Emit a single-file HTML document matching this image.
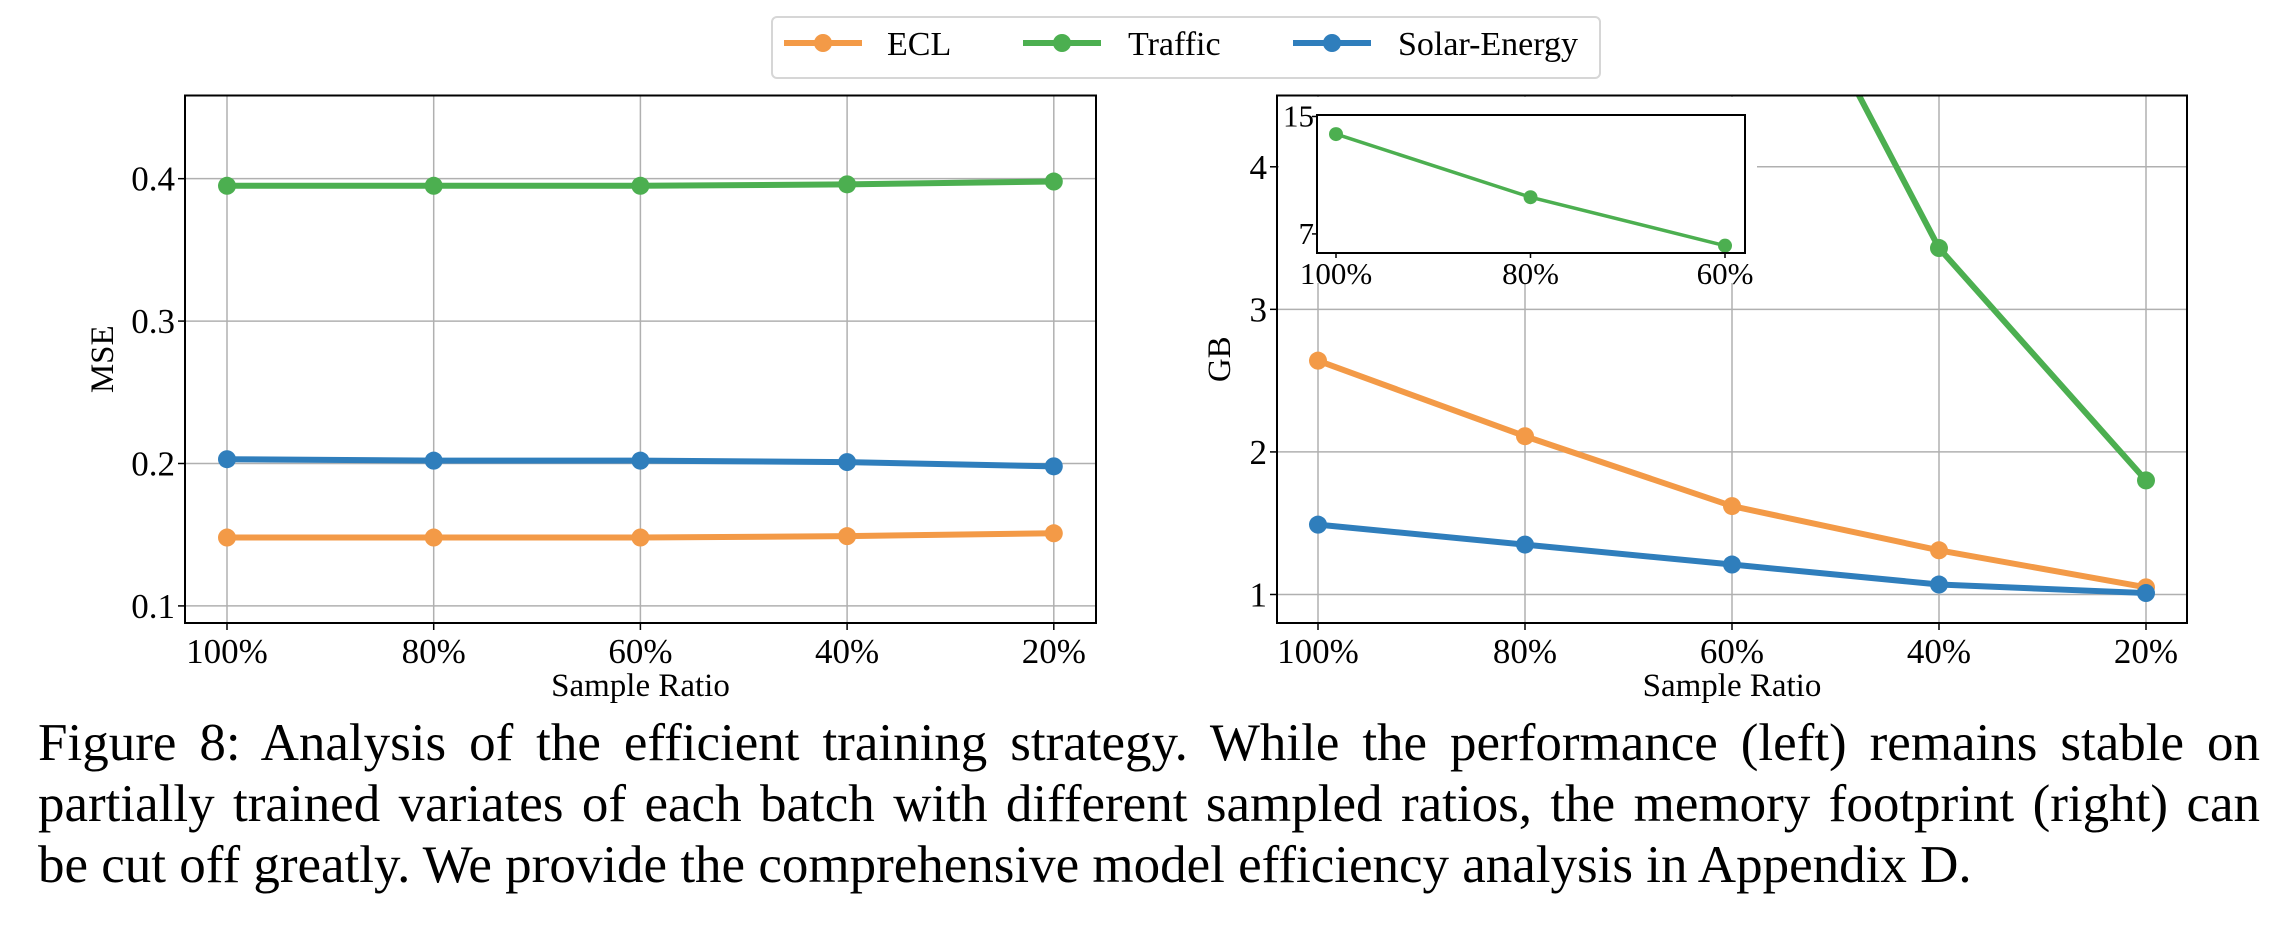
<!DOCTYPE html>
<html><head><meta charset="utf-8"><style>
html,body{margin:0;padding:0;background:#fff;}
body{width:2281px;height:936px;position:relative;overflow:hidden;font-family:"Liberation Serif",serif;}
#cap{position:absolute;left:38px;top:713px;width:2222px;font-size:53px;line-height:61px;text-align:justify;color:#000;}
#cap span{display:block;white-space:nowrap;}
</style></head><body>
<svg id="fig" width="2281" height="936" style="position:absolute;left:0;top:0" font-family="Liberation Serif, serif"></svg>
<div id="cap">
<span style="text-align-last:justify">Figure 8: Analysis of the efficient training strategy. While the performance (left) remains stable on</span>
<span style="text-align-last:justify">partially trained variates of each batch with different sampled ratios, the memory footprint (right) can</span>
<span style="text-align-last:left">be cut off greatly. We provide the comprehensive model efficiency analysis in Appendix D.</span>
</div>
<script>
const categories=["100%","80%","60%","40%","20%"];
const mseECL=[0.148,0.148,0.148,0.149,0.151];
const mseTraffic=[0.395,0.395,0.395,0.396,0.398];
const mseSolar=[0.203,0.202,0.202,0.201,0.198];
const mseTicks=[0.1,0.2,0.3,0.4];
const gbECL=[2.64,2.11,1.62,1.31,1.05];
const gbTraffic=[13.8,9.5,6.2,3.43,1.80];
const gbSolar=[1.49,1.35,1.21,1.07,1.01];
const gbTicks=[1,2,3,4];
const insetCategories=["100%","80%","60%"];
const insetTraffic=[13.8,9.5,6.2];
const insetTicks=[7,15];
const C={ecl:"#f39a47",traffic:"#4caf50",solar:"#2f7ebc"};
const NS="http://www.w3.org/2000/svg";
const svg=document.getElementById('fig');
function mk(tag,attrs,parent,text){const e=document.createElementNS(NS,tag);for(const k in attrs)e.setAttribute(k,attrs[k]);if(text!==undefined)e.textContent=text;(parent||svg).appendChild(e);return e;}
function panel(o){
  const g=mk('g',{});
  
  
  const x=i=>o.x0+i*o.dx;
  const y=v=>o.yb-(v-o.vmin)/(o.vmax-o.vmin)*(o.yb-o.yt);
  for(let i=0;i<categories.length;i++){
    const l=mk('line',{x1:x(i),x2:x(i),y1:o.yt,y2:o.yb,stroke:"#b0b0b0","stroke-width":1.5},g);
    
    
    mk('line',{x1:x(i),x2:x(i),y1:o.yb,y2:o.yb+7,stroke:"#000","stroke-width":1.5},g);
    const t=mk('text',{x:x(i),y:o.yb+40,"font-size":35,"text-anchor":"middle"},g,categories[i]);
    
    
  }
  for(const v of o.ticks){
    const l=mk('line',{x1:o.l,x2:o.r,y1:y(v),y2:y(v),stroke:"#b0b0b0","stroke-width":1.5},g);
    
    
    mk('line',{x1:o.l-7,x2:o.l,y1:y(v),y2:y(v),stroke:"#000","stroke-width":1.5},g);
    const t=mk('text',{x:o.l-10,y:y(v)+12,"font-size":35,"text-anchor":"end"},g,String(v));
    
    
  }
  const clip='clip'+o.name;
  const cp=mk('clipPath',{id:clip},g);mk('rect',{x:o.l,y:o.yt,width:o.r-o.l,height:o.yb-o.yt},cp);
  const sg=mk('g',{"clip-path":`url(#${clip})`},g);
  for(const s of o.series){
    const pl=mk('polyline',{points:s.d.map((v,i)=>x(i)+','+y(v)).join(' '),fill:"none",stroke:s.c,"stroke-width":6,"stroke-linejoin":"round"},sg);
    
    
    s.d.forEach((v,i)=>{const c=mk('circle',{cx:x(i),cy:y(v),r:9,fill:s.c},sg);
      
      });
  }
  const f=mk('rect',{x:o.l,y:o.yt,width:o.r-o.l,height:o.yb-o.yt,fill:"none",stroke:"#000","stroke-width":2},g);
  
  
  const xt=mk('text',{x:(o.l+o.r)/2,y:696,"font-size":33,"text-anchor":"middle"},g,"Sample Ratio");
  
  
  const yt=mk('text',{x:0,y:0,"font-size":33,"text-anchor":"middle",transform:`translate(${o.ylx},${(o.yt+o.yb)/2}) rotate(-90)`},g,o.ylabel);
  
  
  return {g,x,y};
}
panel({name:'mse-panel',l:185,r:1096,yt:95.5,yb:623,x0:227,dx:206.7,vmin:0.088,vmax:0.4584,ticks:mseTicks,ylabel:'MSE',ylx:113,
  series:[{n:'traffic',c:C.traffic,d:mseTraffic},{n:'solar',c:C.solar,d:mseSolar},{n:'ecl',c:C.ecl,d:mseECL}]});
panel({name:'memory-panel',l:1277,r:2187,yt:95.5,yb:623,x0:1318,dx:207,vmin:0.80,vmax:4.50,ticks:gbTicks,ylabel:'GB',ylx:1230,
  series:[{n:'traffic',c:C.traffic,d:gbTraffic},{n:'ecl',c:C.ecl,d:gbECL},{n:'solar',c:C.solar,d:gbSolar}]});
const ig=mk('g',{});


mk('rect',{x:1279,y:97,width:478,height:186,fill:"#fff"},ig);
const il=1317,ir=1745,it=115,ib=253,ix0=1336,idx=194.5,ivmin=5.7,ivmax=15.1;
const ix=i=>ix0+i*idx, iy=v=>ib-(v-ivmin)/(ivmax-ivmin)*(ib-it);
mk('polyline',{points:insetTraffic.map((v,i)=>ix(i)+','+iy(v)).join(' '),fill:"none",stroke:C.traffic,"stroke-width":3.5},ig);
insetTraffic.forEach((v,i)=>{const c=mk('circle',{cx:ix(i),cy:iy(v),r:7,fill:C.traffic},ig);
  
  });
insetCategories.forEach((c,i)=>{mk('line',{x1:ix(i),x2:ix(i),y1:ib,y2:ib+5,stroke:"#000","stroke-width":1.5},ig);
  const t=mk('text',{x:ix(i),y:ib+31,"font-size":31,"text-anchor":"middle"},ig,c);
  
  });
insetTicks.forEach(v=>{mk('line',{x1:il-5,x2:il,y1:iy(v),y2:iy(v),stroke:"#000","stroke-width":1.5},ig);
  const t=mk('text',{x:il-3,y:iy(v)+10,"font-size":31,"text-anchor":"end"},ig,String(v));
  
  });
mk('rect',{x:il,y:it,width:ir-il,height:ib-it,fill:"none",stroke:"#000","stroke-width":2},ig);
const lg=mk('g',{});


mk('rect',{x:772,y:17,width:828,height:61,rx:5,fill:"#fff",stroke:"#d6d6d6","stroke-width":2},lg);
[[784,'ECL',C.ecl,887],[1023,'Traffic',C.traffic,1128],[1293,'Solar-Energy',C.solar,1398]].forEach(([lx,n,c,tx])=>{
  const e=mk('g',{},lg);
  
  
  mk('line',{x1:lx,x2:lx+78,y1:43,y2:43,stroke:c,"stroke-width":6},e);
  mk('circle',{cx:lx+39,cy:43,r:9,fill:c},e);
  mk('text',{x:tx,y:55,"font-size":34},e,n);
});
</script>
</body></html>
